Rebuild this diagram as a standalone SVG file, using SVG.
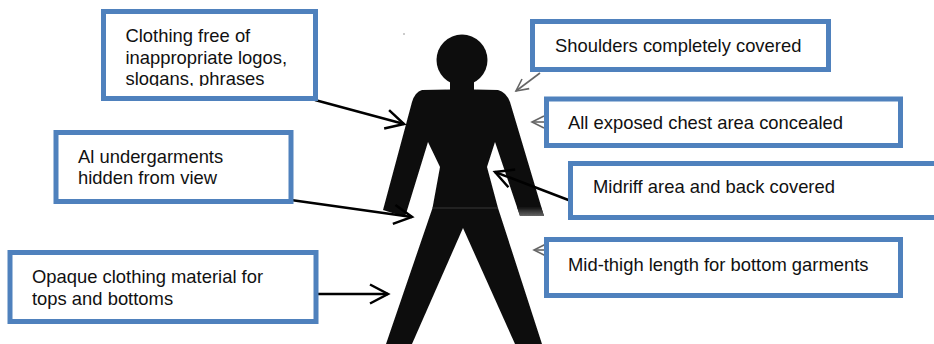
<svg xmlns="http://www.w3.org/2000/svg" width="934" height="344" viewBox="0 0 934 344">
<style>
.box{fill:#fff;stroke:#4f81bd;stroke-width:5}
.t{font-family:"Liberation Sans",Arial,sans-serif;font-size:18.4px;fill:#111}
.fig{fill:#101010}
.k{fill:none;stroke:#000;stroke-width:2.5}
.g{fill:none;stroke:#666;stroke-width:1.6}
</style>
<defs>
<linearGradient id="cuff" x1="0" y1="0" x2="0" y2="1"><stop offset="0" stop-color="#101010"/><stop offset="1" stop-color="#666"/></linearGradient>
<filter id="soft" x="-5%" y="-5%" width="110%" height="110%"><feGaussianBlur stdDeviation="0.7"/></filter>
<marker id="hk" markerUnits="userSpaceOnUse" markerWidth="24" markerHeight="24" refX="20" refY="12" orient="auto" overflow="visible"><path d="M2 2.500L20 12L2 21.500" fill="none" stroke="#000" stroke-width="2.500"/></marker>
<marker id="hg" markerUnits="userSpaceOnUse" markerWidth="18" markerHeight="18" refX="14" refY="9" orient="auto" overflow="visible"><path d="M2 3L14 9L2 15" fill="none" stroke="#666" stroke-width="1.600"/></marker>
<clipPath id="clip1"><rect x="106" y="14" width="207" height="72"/></clipPath>
</defs>
<g id="figure" filter="url(#soft)">
<circle class="fig" cx="462" cy="60" r="25.500"/>
<path class="fig" d="M450 78L450 89.500L422 90Q415 92 412 102L383 210L405 217L428 142L440 167L432.500 208L386 344L412 344L463 228L515 344L542 344L498 208L487 167L495 142L520 216L544 216L510 102Q506 92 498 90L474 89.500L474 78Z"/>
<path d="M517 207L541 207L544 216L520 216Z" fill="url(#cuff)"/>
<line x1="432" y1="208" x2="498" y2="208" stroke="#444" stroke-width="0.800"/>
<circle cx="404" cy="34" r="1" fill="#bbb"/>
</g>
<g id="connectors">
<line class="k" x1="315" y1="100" x2="404" y2="124" marker-end="url(#hk)"/>
<line class="k" x1="291" y1="200" x2="412" y2="217" marker-end="url(#hk)"/>
<line class="k" x1="315" y1="294" x2="388" y2="294" marker-end="url(#hk)"/>
<line class="k" x1="571" y1="201" x2="495" y2="172" marker-end="url(#hk)"/>
<line class="g" x1="540" y1="73" x2="516" y2="91" marker-end="url(#hg)"/>
<line class="g" x1="546" y1="122" x2="532" y2="122" marker-end="url(#hg)"/>
<line class="g" x1="546" y1="250" x2="534" y2="250" marker-end="url(#hg)"/>
</g>
<g id="box-logos">
<rect class="box" x="103.500" y="11.500" width="212" height="87"/>
<g clip-path="url(#clip1)"><text class="t" x="125.500" y="41.500">Clothing free of</text>
<text class="t" x="125.500" y="63.500">inappropriate logos,</text>
<text class="t" x="125.500" y="85">slogans, phrases</text></g>
</g>
<g id="box-undergarments">
<rect class="box" x="56" y="132.500" width="235" height="69"/>
<text class="t" x="78" y="163">Al undergarments</text>
<text class="t" x="78" y="184">hidden from view</text>
</g>
<g id="box-opaque">
<rect class="box" x="10" y="252.500" width="306" height="69"/>
<text class="t" x="32" y="283">Opaque clothing material for</text>
<text class="t" x="32" y="305">tops and bottoms</text>
</g>
<g id="box-shoulders">
<rect class="box" x="532.500" y="21.500" width="296" height="48"/>
<text class="t" x="555" y="52">Shoulders completely covered</text>
</g>
<g id="box-chest">
<rect class="box" x="546.500" y="99" width="354" height="46.500"/>
<text class="t" x="568" y="129">All exposed chest area concealed</text>
</g>
<g id="box-midriff">
<rect class="box" x="570.500" y="163.500" width="372" height="54"/>
<text class="t" x="593" y="193">Midriff area and back covered</text>
</g>
<g id="box-thigh">
<rect class="box" x="546.500" y="239.500" width="354" height="56"/>
<text class="t" x="568" y="271">Mid-thigh length for bottom garments</text>
</g>
</svg>
